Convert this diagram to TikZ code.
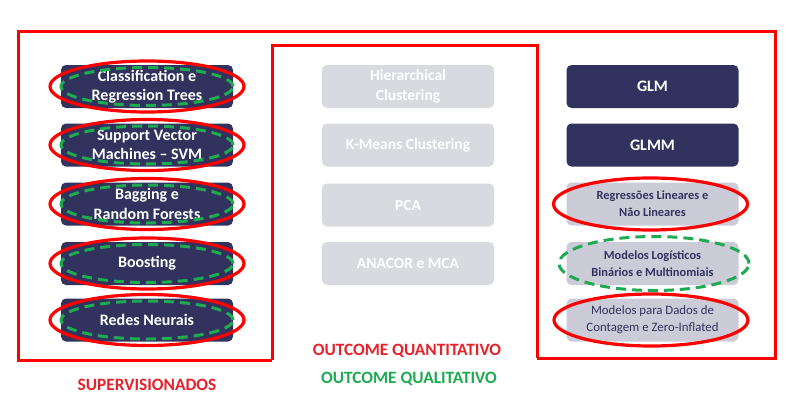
\documentclass[tikz,border=0pt]{standalone}
\usepackage{fontspec}
\setmainfont{Carlito}
\definecolor{navy}{HTML}{31335E}
\definecolor{midgray}{HTML}{D9DAE0}
\definecolor{rgray}{HTML}{CBCCD8}
\definecolor{myred}{HTML}{FF0000}
\definecolor{labred}{HTML}{E8202A}
\definecolor{mygreen}{HTML}{1EAA50}
\begin{document}
\begin{tikzpicture}[x=1pt,y=-1pt,
  box/.style={rounded corners=5pt,minimum width=172pt,minimum height=43pt,inner sep=0pt,align=center},
  darkbox/.style={box,fill=navy,text=white,font=\fontsize{16}{19.5}\selectfont\bfseries},
  midbox/.style={box,fill=midgray,text=white,font=\fontsize{15.5}{19.5}\selectfont\bfseries},
  rbox/.style={box,fill=rgray,text=navy,font=\fontsize{12.4}{17}\selectfont\bfseries},
  rboxn/.style={box,fill=rgray,text=navy,font=\fontsize{12.8}{17}\selectfont},
  redell/.style={draw=myred,line width=3.2pt},
  greenell/.style={draw=mygreen,line width=3pt,dash pattern=on 10pt off 6pt},
  frame/.style={draw=myred,line width=3pt},
  lab/.style={font=\fontsize{17.3}{20}\selectfont\bfseries}]
\useasboundingbox (0,0) rectangle (802,412);
% frames
\draw[frame] (272,360) -- (18,360) -- (18,32) -- (775,32) -- (775,358) -- (537,358);
\draw[frame] (272,360) -- (272,46) -- (537,46) -- (537,358);
% left column
\node[darkbox] (l1) at (147,86.5) {Classification e\\Regression Trees};
\node[darkbox] (l2) at (147,145) {Support Vector\\Machines -- SVM};
\node[darkbox] (l3) at (147,204) {Bagging e\\Random Forests};
\node[darkbox] (l4) at (147,263.5) {Boosting};
\node[darkbox] (l5) at (147,320) {Redes Neurais};
\foreach \n in {l1,l2,l3,l4,l5}{
  \draw[greenell] (\n.center) ellipse [x radius=86pt,y radius=19pt];
  \draw[redell] (\n.center) ellipse [x radius=97pt,y radius=25.5pt];
}
% middle column
\node[midbox] (m1) at (408,86.5) {Hierarchical\\Clustering};
\node[midbox] (m2) at (408,145) {K-Means Clustering};
\node[midbox] (m3) at (408,205) {PCA};
\node[midbox] (m4) at (408,263.5) {ANACOR e MCA};
% right column
\node[darkbox] (r1) at (652.5,86.5) {GLM};
\node[darkbox] (r2) at (652.5,145) {GLMM};
\node[rbox] (r3) at (652.5,204) {Regressões Lineares e\\Não Lineares};
\node[rbox] (r4) at (652.5,263.5) {Modelos Logísticos\\Binários e Multinomiais};
\node[rboxn] (r5) at (652.5,320) {Modelos para Dados de\\Contagem e Zero-Inflated};
\draw[redell] ([xshift=-2pt]r3.center) ellipse [x radius=97pt,y radius=26pt];
\draw[greenell] ([xshift=1.5pt]r4.center) ellipse [x radius=95pt,y radius=27pt];
\draw[redell] ([xshift=-1.5pt]r5.center) ellipse [x radius=97pt,y radius=26pt];
% labels
\node[lab,text=labred] (sup) at (147,385) {SUPERVISIONADOS};
\node[lab,text=labred] (quant) at (407,351) {OUTCOME QUANTITATIVO};
\node[lab,text=mygreen] (qual) at (409,379) {OUTCOME QUALITATIVO};
\end{tikzpicture}
\end{document}
